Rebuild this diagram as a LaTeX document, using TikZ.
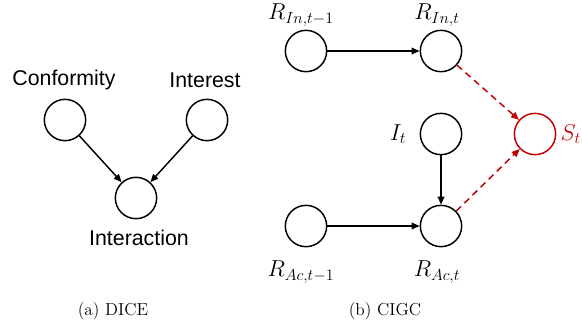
\documentclass[tikz,border=0pt]{standalone}
\usepackage{fontspec}
\setsansfont{Liberation Sans}
\usetikzlibrary{arrows.meta}
\definecolor{darkred}{RGB}{192,0,0}

\begin{document}
\begin{tikzpicture}[x=0.75pt,y=-0.75pt,line width=1.1pt,
  var/.style={circle,draw=black,minimum size=31pt,inner sep=0pt},
  svar/.style={var,draw=darkred},
  lab/.style={font=\sffamily\fontsize{16}{19}\selectfont},
  mlab/.style={font=\fontsize{16.5}{19}\selectfont},
  captext/.style={font=\fontsize{13}{15}\selectfont},
  arr/.style={-{Triangle[length=6pt,width=5pt]}},
  darr/.style={arr,darkred,dashed,dash pattern=on 5pt off 3.5pt}]
\useasboundingbox (0,0) rectangle (582,330);
%
% (a) DICE
\node[var] (conf) at (65,120) {};
\node[var] (inter) at (207,120) {};
\node[var] (act) at (136,198) {};
\node[lab] (conflab) at (64,80) {Conformity};
\node[lab] (interlab) at (205,80) {Interest};
\node[lab] (actlab) at (139,238) {Interaction};
\draw[arr] (conf) -- (act);
\draw[arr] (inter) -- (act);
%
% (b) CIGC
\node[var] (rinp) at (306,51) {};
\node[var] (rin) at (441,51) {};
\node[var] (it) at (441,134) {};
\node[svar] (st) at (535,134) {};
\node[var] (racp) at (306,226) {};
\node[var] (rac) at (441,226) {};
\node[mlab] (rinplab) at (301,15) {$R_{In,t-1}$};
\node[mlab] (rinlab) at (437,15) {$R_{In,t}$};
\node[mlab] (itlab) at (398,134) {$I_t$};
\node[mlab,text=darkred,anchor=west,inner sep=0pt] (stlab) at (560,134) {$S_t$};
\node[mlab] (racplab) at (301,272) {$R_{Ac,t-1}$};
\node[mlab] (raclab) at (437,272) {$R_{Ac,t}$};
\draw[arr] (rinp) -- (rin);
\draw[arr] (racp) -- (rac);
\draw[arr] (it) -- (rac);
\draw[darr] (rin) -- (st);
\draw[darr] (rac) -- (st);
%
% captions
\node[captext] (capa) at (113,311) {(a) DICE};
\node[captext] (capb) at (385,311) {(b) CIGC};
\end{tikzpicture}
\end{document}
